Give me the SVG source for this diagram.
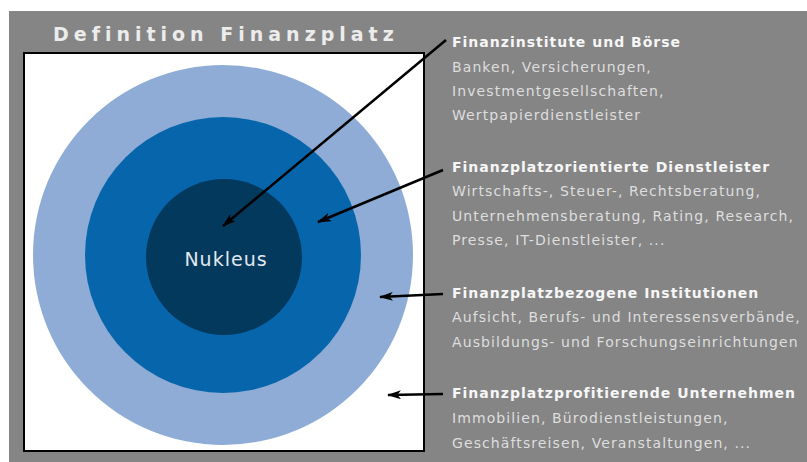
<svg xmlns="http://www.w3.org/2000/svg" width="807" height="462" viewBox="0 0 807 462">
  <defs>
    <style>
      .title { font-family: "DejaVu Sans", Verdana, sans-serif; font-weight: bold; font-size: 19px; letter-spacing: 5px; fill: #ececec; }
      .head { font-family: "DejaVu Sans", Verdana, sans-serif; font-weight: bold; font-size: 14px; letter-spacing: 1px; fill: #f6f6f6; }
      .body { font-family: "DejaVu Sans", Verdana, sans-serif; font-size: 14px; letter-spacing: 1.1px; fill: #dedede; }
      .nuk { font-family: "DejaVu Sans", Verdana, sans-serif; font-size: 19px; letter-spacing: 1px; fill: #e2e8ef; }
      .arrow { stroke: #000; stroke-width: 2.5; fill: none; marker-end: url(#head); }
    </style>
    <marker id="head" viewBox="0 0 14 9" refX="13" refY="4.5" markerWidth="14" markerHeight="9" markerUnits="userSpaceOnUse" orient="auto">
      <path d="M0,0 L14,4.5 L0,9 L3.5,4.5 Z" fill="#000"/>
    </marker>
  </defs>
  <rect x="0" y="0" width="807" height="462" fill="#ffffff"/>
  <rect x="9" y="11" width="798" height="451" fill="#858585"/>
  <text class="title" x="53" y="41">Definition Finanzplatz</text>

  <g id="frame">
    <rect x="24" y="53" width="400" height="398" fill="#ffffff" stroke="#000" stroke-width="2"/>
  </g>
  <g id="ring-outer">
    <circle cx="223" cy="255" r="190" fill="#8eacd6"/>
  </g>
  <g id="ring-middle">
    <circle cx="223" cy="255" r="138" fill="#0766ab"/>
  </g>
  <g id="nukleus">
    <circle cx="224" cy="257" r="78" fill="#04395e"/>
    <text class="nuk" x="226" y="266" text-anchor="middle">Nukleus</text>
  </g>

  <g id="label-1">
    <text class="head" x="452" y="47">Finanzinstitute und Börse</text>
    <text class="body" x="452" y="72">Banken, Versicherungen,</text>
    <text class="body" x="452" y="96">Investmentgesellschaften,</text>
    <text class="body" x="452" y="120">Wertpapierdienstleister</text>
  </g>
  <g id="label-2">
    <text class="head" x="452" y="172">Finanzplatzorientierte Dienstleister</text>
    <text class="body" x="452" y="196">Wirtschafts-, Steuer-, Rechtsberatung,</text>
    <text class="body" x="452" y="221">Unternehmensberatung, Rating, Research,</text>
    <text class="body" x="452" y="245">Presse, IT-Dienstleister, ...</text>
  </g>
  <g id="label-3">
    <text class="head" x="452" y="298">Finanzplatzbezogene Institutionen</text>
    <text class="body" x="452" y="322">Aufsicht, Berufs- und Interessensverbände,</text>
    <text class="body" x="452" y="347">Ausbildungs- und Forschungseinrichtungen</text>
  </g>
  <g id="label-4">
    <text class="head" x="452" y="398">Finanzplatzprofitierende Unternehmen</text>
    <text class="body" x="452" y="423">Immobilien, Bürodienstleistungen,</text>
    <text class="body" x="452" y="448">Geschäftsreisen, Veranstaltungen, ...</text>
  </g>

  <g id="connectors">
    <line class="arrow" x1="446" y1="40" x2="223" y2="226"/>
    <line class="arrow" x1="443" y1="170" x2="318" y2="222"/>
    <line class="arrow" x1="443" y1="294" x2="380" y2="297"/>
    <line class="arrow" x1="443" y1="394" x2="388" y2="395"/>
  </g>
</svg>
